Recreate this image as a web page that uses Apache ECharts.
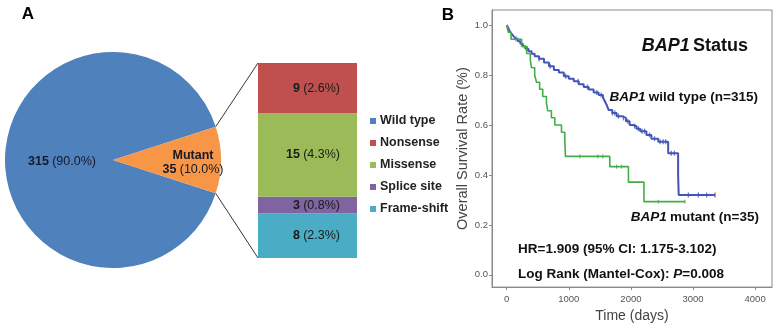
<!DOCTYPE html>
<html>
<head>
<meta charset="utf-8">
<script src="https://cdn.jsdelivr.net/npm/echarts@6/dist/echarts.min.js"></script>
<style>
  html, body { margin: 0; padding: 0; background: #fff; }
  #chart { width: 773px; height: 328px; }
</style>
</head>
<body>
<div id="chart"></div>
<script>
// ---- panel A data ----
var pieNames = ['Wild type', 'Mutant'];
var pieValues = [315, 35];
var mutTypes = ['Nonsense', 'Missense', 'Splice site', 'Frame-shift'];
var mutCounts = [9, 15, 3, 8];
var mutPct = [2.6, 4.3, 0.8, 2.3];

// ---- panel B data (Kaplan-Meier) ----
var wtTimes = [0, 20, 50, 80, 110, 140, 180, 220, 260, 300, 350, 400, 450, 520, 600, 680, 760, 840, 920, 1000,
  1080, 1160, 1240, 1320, 1400, 1480, 1550, 1580, 1610, 1640, 1700, 1770, 1850, 1920, 1980, 2030, 2090, 2150,
  2250, 2330, 2440, 2600, 2760, 2770, 3355];
var wtSurv = [1.0, 0.99, 0.975, 0.965, 0.955, 0.945, 0.935, 0.925, 0.915, 0.905, 0.895, 0.885, 0.875, 0.865, 0.85,
  0.835, 0.82, 0.81, 0.795, 0.785, 0.775, 0.763, 0.752, 0.742, 0.73, 0.72, 0.71, 0.695, 0.68, 0.66, 0.648, 0.635,
  0.628, 0.615, 0.60, 0.595, 0.585, 0.575, 0.56, 0.545, 0.533, 0.487, 0.40, 0.32, 0.32];
var wtCensor = [150, 330, 520, 700, 950, 1150, 1300, 1450, 1520, 1700, 1740, 1800, 1880, 1950, 2060, 2120, 2180,
  2220, 2300, 2380, 2470, 2520, 2560, 2650, 2700, 2925, 3086, 3220, 3355];

var mtTimes = [0, 25, 70, 240, 320, 380, 400, 450, 480, 530, 580, 640, 660, 720, 774, 882, 935, 940, 945, 1660,
  1960, 2210, 2870];
var mtSurv = [1.0, 0.971, 0.943, 0.914, 0.886, 0.857, 0.829, 0.80, 0.771, 0.743, 0.714, 0.686, 0.657, 0.629, 0.60,
  0.571, 0.543, 0.514, 0.474, 0.433, 0.371, 0.293, 0.293];
var mtCensor = [1177, 1468, 1548, 1769, 1849, 2441, 2870];

var xTicks = [0, 1000, 2000, 3000, 4000];
var yTicks = [0, 0.2, 0.4, 0.6, 0.8, 1.0];

var FONT = 'Liberation Sans, Arial, sans-serif';
var BLUE = '#4356b6';
var GREEN = '#41ae4a';
var mutColors = ['#c0504d', '#9bbb59', '#8064a2', '#4bacc6'];

function pairs(ts, ss) {
  return ts.map(function (t, i) { return [t, ss[i]]; });
}
// survival at time t from the step curve
function survAt(ts, ss, t) {
  var s = ss[0];
  for (var i = 0; i < ts.length; i++) {
    if (ts[i] <= t) s = ss[i];
  }
  return s;
}
function censorPts(ts, ss, cs) {
  return cs.map(function (c) { return [c, survAt(ts, ss, c)]; });
}

// pie geometry
var pieCx = 113, pieCy = 160, pieR = 108;
var barLeft = 258, barTop = 63, barW = 99, barH = 195;
var halfAng = pieValues[1] / (pieValues[0] + pieValues[1]) * Math.PI; // half of mutant wedge

var chart = echarts.init(document.getElementById('chart'), null, { renderer: 'canvas' });

// bar series stack from bottom, so reverse the order
var barSeries = [];
for (var k = mutTypes.length - 1; k >= 0; k--) {
  (function (i) {
    barSeries.push({
      name: mutTypes[i],
      type: 'bar',
      stack: 'mut',
      xAxisIndex: 0,
      yAxisIndex: 0,
      barWidth: '100%',
      itemStyle: { color: mutColors[i] },
      label: {
        show: true,
        position: 'insideRight',
        distance: 17,
        formatter: function () { return '{b|' + mutCounts[i] + '} {n|(' + mutPct[i].toFixed(1) + '%)}'; },
        rich: {
          b: { fontWeight: 'bold', fontSize: 12.5, color: '#1a1a1a', fontFamily: FONT },
          n: { fontSize: 12.5, color: '#1a1a1a', fontFamily: FONT }
        }
      },
      data: [mutCounts[i]]
    });
  })(k);
}

var option = {
  animation: false,
  textStyle: { fontFamily: FONT },
  grid: [
    { left: barLeft, top: barTop, width: barW, height: barH, show: false },
    { left: 492, top: 10, right: 1, bottom: 40, show: true, borderColor: '#8a8a8a', borderWidth: 1 }
  ],
  legend: {
    orient: 'vertical',
    left: 365,
    top: 109,
    itemWidth: 6,
    itemHeight: 6,
    itemGap: 8,
    icon: 'rect',
    data: ['Wild type'].concat(mutTypes),
    textStyle: { fontWeight: 'bold', fontSize: 12.5, color: '#222', lineHeight: 14, fontFamily: FONT, padding: [0, 0, 0, -1] },
    selectedMode: false
  },
  xAxis: [
    { type: 'category', gridIndex: 0, data: ['m'], show: false },
    {
      type: 'value', gridIndex: 1, min: -237, max: 4272,
      axisLine: { show: true, onZero: false, lineStyle: { color: '#8a8a8a' } },
      axisTick: { show: true, customValues: xTicks, length: 3, lineStyle: { color: '#8a8a8a' } },
      axisLabel: { customValues: xTicks, fontSize: 9.5, color: '#555', margin: 7,
        formatter: function (v) { return String(v); } },
      splitLine: { show: false },
      name: 'Time (days)', nameLocation: 'middle', nameGap: 21,
      nameTextStyle: { fontSize: 14, color: '#444' }
    }
  ],
  yAxis: [
    { type: 'value', gridIndex: 0, min: 0, max: 35, show: false },
    {
      type: 'value', gridIndex: 1, min: -0.049, max: 1.06,
      axisLine: { show: true, onZero: false, lineStyle: { color: '#8a8a8a' } },
      axisTick: { show: true, customValues: yTicks, length: 3, lineStyle: { color: '#8a8a8a' } },
      axisLabel: { customValues: yTicks, fontSize: 9.5, color: '#555', margin: 4,
        formatter: function (v) { return v.toFixed(1); } },
      splitLine: { show: false },
      name: 'Overall Survival Rate (%)', nameLocation: 'middle', nameGap: 20,
      nameTextStyle: { fontSize: 14.5, color: '#444' }
    }
  ],
  series: [
    {
      type: 'pie',
      center: [pieCx, pieCy],
      radius: pieR,
      startAngle: -18,
      clockwise: true,
      silent: true,
      label: {
        show: true,
        position: 'inside',
        formatter: function (p) {
          var head = p.dataIndex === 1 ? '{b|' + p.name + '}\n' : '';
          return head + '{b|' + p.value + '} {n|(' + p.percent.toFixed(1) + '%)}';
        },
        rich: {
          b: { fontWeight: 'bold', fontSize: 12.5, color: '#15192a', fontFamily: FONT, lineHeight: 14 },
          n: { fontSize: 12.5, color: '#15192a', fontFamily: FONT, lineHeight: 14 }
        }
      },
      labelLayout: function (p) {
        return p.dataIndex === 1 ? { dx: 23, dy: 3 } : { dx: 6, dy: 2 };
      },
      data: [
        { name: pieNames[0], value: pieValues[0], itemStyle: { color: '#4f81bd' } },
        { name: pieNames[1], value: pieValues[1], itemStyle: { color: '#f79646' } }
      ]
    }
  ].concat(barSeries).concat([
    {
      name: 'wt', type: 'line', xAxisIndex: 1, yAxisIndex: 1,
      step: 'end', showSymbol: false, silent: true,
      lineStyle: { color: BLUE, width: 2 },
      data: pairs(wtTimes, wtSurv)
    },
    {
      name: 'mt', type: 'line', xAxisIndex: 1, yAxisIndex: 1,
      step: 'end', showSymbol: false, silent: true,
      lineStyle: { color: GREEN, width: 1.6 },
      data: pairs(mtTimes, mtSurv)
    },
    {
      name: 'wtc', type: 'scatter', xAxisIndex: 1, yAxisIndex: 1, silent: true,
      symbol: 'rect', symbolSize: [1.3, 5], itemStyle: { color: BLUE },
      data: censorPts(wtTimes, wtSurv, wtCensor)
    },
    {
      name: 'mtc', type: 'scatter', xAxisIndex: 1, yAxisIndex: 1, silent: true,
      symbol: 'rect', symbolSize: [1.2, 4], itemStyle: { color: GREEN },
      data: censorPts(mtTimes, mtSurv, mtCensor)
    }
  ]),
  graphic: [
    { type: 'text', x: 28, y: 14, style: { text: 'A', font: 'bold 17px ' + FONT, fill: '#000', align: 'center', verticalAlign: 'middle' } },
    { type: 'text', x: 448, y: 15, style: { text: 'B', font: 'bold 17px ' + FONT, fill: '#000', align: 'center', verticalAlign: 'middle' } },
    // zoom lines from mutant wedge to the stacked bar
    { type: 'line', shape: { x1: pieCx + pieR * Math.cos(halfAng), y1: pieCy - pieR * Math.sin(halfAng), x2: barLeft, y2: barTop },
      style: { stroke: '#333', lineWidth: 1 } },
    { type: 'line', shape: { x1: pieCx + pieR * Math.cos(halfAng), y1: pieCy + pieR * Math.sin(halfAng), x2: barLeft, y2: barTop + barH },
      style: { stroke: '#333', lineWidth: 1 } },
    { type: 'text', x: 748, y: 46, z: 10, style: {
        text: '{i|BAP1} {b|Status}', align: 'right', verticalAlign: 'middle', fill: '#111',
        rich: { i: { fontStyle: 'italic', fontWeight: 'bold', fontSize: 18, fontFamily: FONT, fill: '#111' },
                b: { fontWeight: 'bold', fontSize: 18, fontFamily: FONT, fill: '#111' } } } },
    { type: 'text', x: 758, y: 97, z: 10, style: {
        text: '{i|BAP1} {b|wild type (n=315)}', align: 'right', verticalAlign: 'middle',
        rich: { i: { fontStyle: 'italic', fontWeight: 'bold', fontSize: 13.5, fontFamily: FONT, fill: '#111' },
                b: { fontWeight: 'bold', fontSize: 13.5, fontFamily: FONT, fill: '#111' } } } },
    { type: 'text', x: 759, y: 217, z: 10, style: {
        text: '{i|BAP1} {b|mutant (n=35)}', align: 'right', verticalAlign: 'middle',
        rich: { i: { fontStyle: 'italic', fontWeight: 'bold', fontSize: 13.5, fontFamily: FONT, fill: '#111' },
                b: { fontWeight: 'bold', fontSize: 13.5, fontFamily: FONT, fill: '#111' } } } },
    { type: 'text', x: 518, y: 249, z: 10, style: {
        text: 'HR=1.909 (95% CI: 1.175-3.102)', font: 'bold 13.5px ' + FONT, fill: '#111', verticalAlign: 'middle' } },
    { type: 'text', x: 518, y: 274, z: 10, style: {
        text: '{b|Log Rank (Mantel-Cox): }{i|P}{b|=0.008}', verticalAlign: 'middle',
        rich: { i: { fontStyle: 'italic', fontWeight: 'bold', fontSize: 13.5, fontFamily: FONT, fill: '#111' },
                b: { fontWeight: 'bold', fontSize: 13.5, fontFamily: FONT, fill: '#111' } } } }
  ]
};

chart.setOption(option);
</script>
</body>
</html>
